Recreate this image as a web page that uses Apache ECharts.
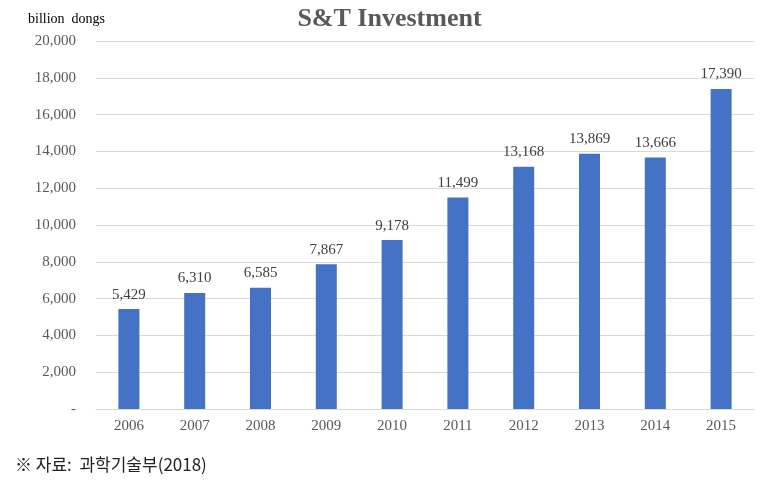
<!DOCTYPE html>
<html>
<head>
<meta charset="utf-8">
<script src="https://cdn.jsdelivr.net/npm/echarts@6/dist/echarts.min.js"></script>
<style>
  html, body { margin: 0; padding: 0; background: #fff; }
  #chartBox { width: 779px; height: 485px; }
</style>
</head>
<body>
<div id="chartBox"></div>
<script>
// 연도별 S&T 투자 (billion dongs)
var years = ['2006', '2007', '2008', '2009', '2010', '2011', '2012', '2013', '2014', '2015'];
var investment = [5429, 6310, 6585, 7867, 9178, 11499, 13168, 13869, 13666, 17390];

var serif = '"Liberation Serif", "DejaVu Serif", serif';

var myChart = echarts.init(document.getElementById('chartBox'));
myChart.setOption({
  animation: false,
  title: {
    text: 'S&T Investment',
    left: 'center',
    top: 1,
    textStyle: { fontFamily: serif, fontSize: 26, fontWeight: 'bold', color: '#595959' }
  },
  graphic: [{
    type: 'text',
    left: 28,
    top: 12,
    style: { text: 'billion  dongs', font: '14px ' + serif, fill: '#000' }
  }, {
    type: 'text',
    left: 15,
    top: 456,
    style: { text: '※ 자료:  과학기술부(2018)', font: '17px "Noto Sans CJK KR", sans-serif', fill: '#222' }
  }],
  grid: { left: 96, right: 25, top: 41, bottom: 76, containLabel: false },
  xAxis: {
    type: 'category',
    data: years,
    axisTick: { show: false },
    axisLine: { lineStyle: { color: '#d9d9d9' } },
    axisLabel: { fontFamily: serif, fontSize: 15, color: '#595959', margin: 10 }
  },
  yAxis: {
    type: 'value',
    min: 0,
    max: 20000,
    interval: 2000,
    axisLine: { show: false },
    axisTick: { show: false },
    splitLine: { lineStyle: { color: '#d9d9d9' } },
    axisLabel: {
      fontFamily: serif, fontSize: 15, color: '#595959', margin: 20,
      formatter: function (v) { return v === 0 ? '-' : v.toLocaleString('en-US'); }
    }
  },
  series: [{
    type: 'bar',
    data: investment,
    barWidth: 21,
    itemStyle: { color: '#4472C4' },
    label: {
      show: true,
      position: 'top',
      distance: 7,
      fontFamily: serif,
      fontSize: 15,
      color: '#404040',
      formatter: function (p) { return p.value.toLocaleString('en-US'); }
    }
  }]
});
</script>
</body>
</html>
